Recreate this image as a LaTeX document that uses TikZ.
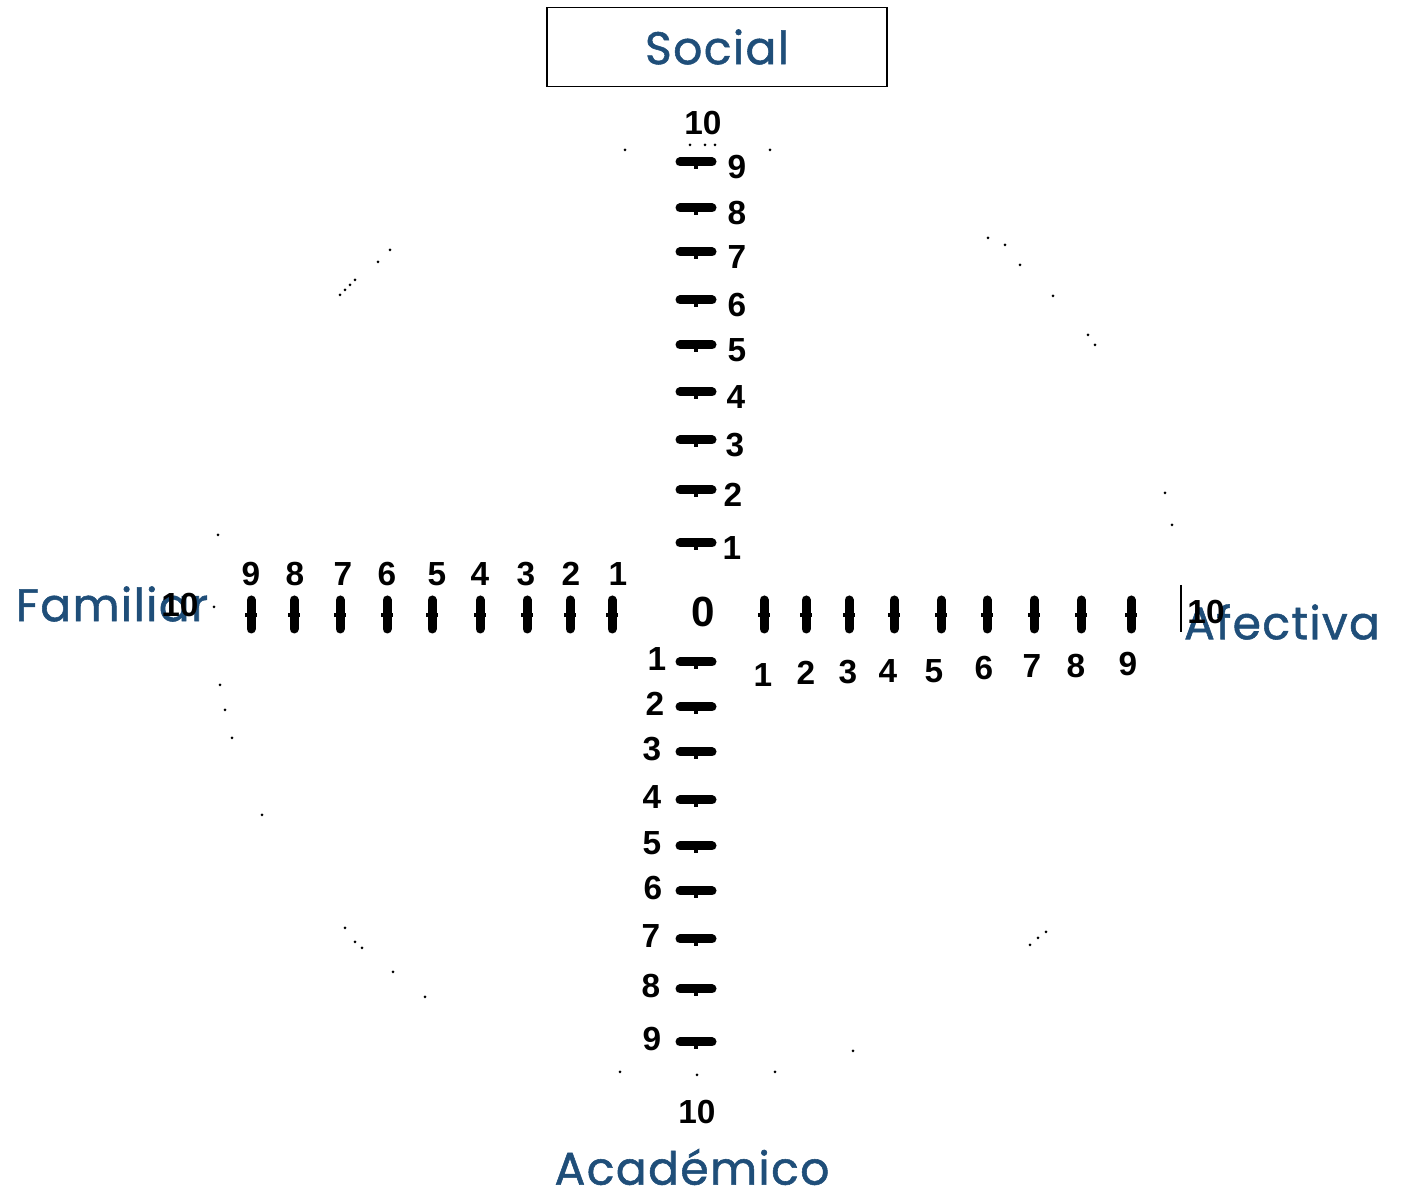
\documentclass[tikz,border=0pt]{standalone}
\usepackage{fontspec}
\setmainfont{Liberation Sans}
\newfontfamily\labelfont[LetterSpace=3,FakeBold=1.2]{Poppins}
\usepackage{xcolor}
\usetikzlibrary{positioning}
\definecolor{ejeazul}{HTML}{1F4E79}

\tikzset{
  numero/.style={font=\bfseries\fontsize{19}{19}\selectfont, inner sep=0pt},
  dimension/.style={font=\labelfont\fontsize{26}{26}\selectfont, text=ejeazul, inner sep=0pt},
  marca/.style={line width=1.8mm, line cap=round},
  nudo/.style={line width=0.7mm},
  punto/.style={fill=black}
}

\begin{document}
\begin{tikzpicture}[x=0.2mm,y=0.2mm]
            \useasboundingbox (0,0) rectangle (1401,1198);
            % dimensiones
            \node[dimension, draw=black, line width=0.25mm, minimum width=68mm, minimum height=15.8mm] at (717,1151) (social) {Social};
            \node[dimension] at (112,594) (familiar) {Familiar};
            \node[dimension] at (1282,576) (afectiva) {Afectiva};
            \node[dimension] at (692,31) (academico) {Académico};
            \node[numero, font=\bfseries\fontsize{24}{24}\selectfont] at (703,586) (cero) {0};
            % eje social
            \foreach \n/\y/\lx in {9/1036/737, 8/990/737, 7/946/737, 6/898/737, 5/853/737, 4/806/736, 3/758/735, 2/708/733, 1/655/732} {
                \draw[marca] (680,\y) -- (712,\y);
                \draw[nudo] (696,\y) -- ++(0,-7);
                \node[numero] at (\lx,\y-5) (s\n) {\n};
            }
            \node[numero] at (703,1075) (s10) {10};
            % eje academico
            \foreach \n/\y/\lx in {1/536/657, 2/491/655, 3/446/652, 4/398/652, 5/352/652, 6/307/653, 7/259/651, 8/209/651, 9/156/652} {
                \draw[marca] (680,\y) -- (712,\y);
                \draw[nudo] (696,\y) -- ++(0,-7);
                \node[numero] at (\lx,\y+3) (a\n) {\n};
            }
            \node[numero] at (697,86) (a10) {10};
            % eje familiar
            \foreach \n/\x/\lx in {1/612/618, 2/570/571, 3/527/526, 4/480/480, 5/432/437, 6/387/387, 7/340/343, 8/294/295, 9/251/251} {
                \draw[marca] (\x,569) -- (\x,598);
                \draw[nudo] (\x-6,583) -- (\x+6,583);
                \node[numero] at (\lx,624) (f\n) {\n};
            }
            \node[numero] at (180,593) (f10) {10};
            % eje afectiva
            \foreach \n/\x/\lx/\ly in {1/764/763/523, 2/806/806/525, 3/849/848/526, 4/894/888/527, 5/941/934/527, 6/987/984/530, 7/1034/1032/532, 8/1081/1076/532, 9/1131/1128/534} {
                \draw[marca] (\x,569) -- (\x,598);
                \draw[nudo] (\x-6,583) -- (\x+6,583);
                \node[numero] at (\lx,\ly) (e\n) {\n};
            }
            \node[numero] at (1206,586) (e10) {10};
            \draw[line width=0.3mm] (1181,613) -- (1181,566);
            % restos del circulo
            \foreach \px/\py in {340/295, 345/290, 350/285, 355/280, 378/262, 390/250, 625/150, 690/145, 705/145, 715/145, 770/150,
                                 988/238, 1005/245, 1020/265, 1053/296, 1088/335, 1095/345, 1165/493, 1172/525,
                                 218/535, 220/685, 225/710, 232/738, 262/815, 345/928, 355/942, 362/948, 393/972, 425/997,
                                 620/1072, 697/1075, 775/1072, 853/1051, 1030/945, 1038/938, 1046/932, 214/607} {
                \fill[punto] (\px,1198-\py) circle (0.3mm);
            }
        \end{tikzpicture}
\end{document}
